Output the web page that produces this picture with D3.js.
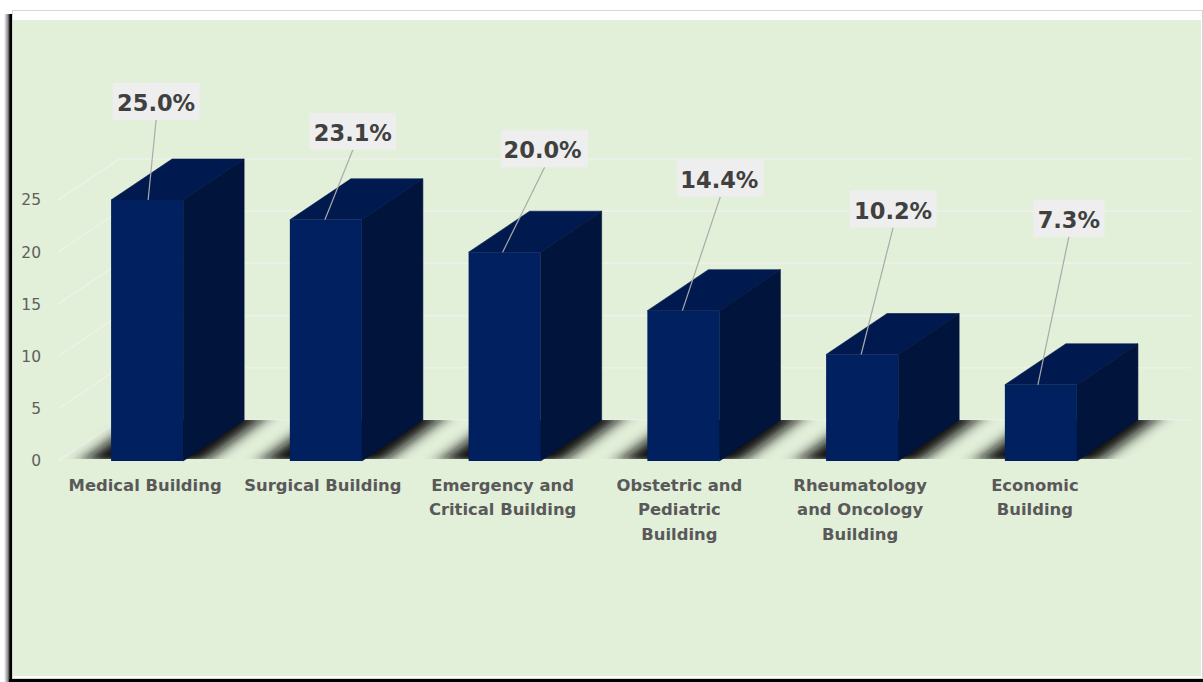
<!DOCTYPE html>
<html>
<head>
<meta charset="utf-8">
<script src="https://cdn.jsdelivr.net/npm/d3@7/dist/d3.min.js"></script>
<style>
html,body{margin:0;padding:0;background:#fff;overflow:hidden}
svg{display:block}
text{font-family:"DejaVu Sans",sans-serif}
</style>
</head>
<body>
<svg id="chart" width="1203" height="682"></svg>
<script>
// Share of cases per hospital building
const categories = [
  ["Medical Building"],
  ["Surgical Building"],
  ["Emergency and", "Critical Building"],
  ["Obstetric and", "Pediatric", "Building"],
  ["Rheumatology", "and Oncology", "Building"],
  ["Economic", "Building"]
];
const values = [25.0, 23.1, 20.0, 14.4, 10.2, 7.3];
const yTicks = [0, 5, 10, 15, 20, 25];

// Callout placement relative to the top of each bar's front face
const calloutDx = [9, 27, 40, 37, 31, 28];
const calloutDy = [-97, -87, -102, -131, -144, -165];
const textNudge = [0, 0, -2, -1, 0, 0];
const leaderNudge = [1, -1, -2, -1, -1, -3];
const labelNudge = [-2, -3, -2, -4, -2, -6];

const depth = {dx: 61, dy: -41};
const svg = d3.select("#chart");
const defs = svg.append("defs");

const y = d3.scaleLinear().domain([0, 25]).range([461, 200]);
const x = d3.scaleBand().domain(d3.range(values.length))
  .range([58, 1130]).paddingInner(0.597).paddingOuter(0.297);
const floorY = y(0);

// Soft shadow along the left edge of the panel
const edge = defs.append("linearGradient").attr("id", "edge");
edge.append("stop").attr("offset", 0).attr("stop-color", "#fff");
edge.append("stop").attr("offset", 0.45).attr("stop-color", "#888");
edge.append("stop").attr("offset", 0.68).attr("stop-color", "#000");
edge.append("stop").attr("offset", 1).attr("stop-color", "#000");

defs.append("filter").attr("id", "floor")
  .attr("x", "-30%").attr("y", "-40%").attr("width", "160%").attr("height", "180%")
  .append("feGaussianBlur").attr("stdDeviation", "10 3");
defs.append("clipPath").attr("id", "floorClip").append("rect")
  .attr("x", 0).attr("y", floorY + depth.dy).attr("width", 1203).attr("height", -depth.dy - 2);

svg.append("rect").attr("x", 4).attr("y", 14).attr("width", 9).attr("height", 668).attr("fill", "url(#edge)");
svg.append("rect").attr("x", 12.5).attr("y", 10.5).attr("width", 1190).attr("height", 668)
  .attr("fill", "#fff").attr("stroke", "#d6d6d6").attr("stroke-width", 1);
svg.append("rect").attr("x", 13).attr("y", 20).attr("width", 1188).attr("height", 656).attr("fill", "#e2efd9");
svg.append("rect").attr("x", 9).attr("y", 679).attr("width", 1194).attr("height", 3).attr("fill", "#000");

// Gridlines: diagonal on the side wall, horizontal on the back wall
const grid = svg.append("g").attr("fill", "none").attr("stroke", "#eef1ea").attr("stroke-width", 1.6);
grid.selectAll("path").data(yTicks).join("path")
  .attr("d", d => d3.line()([
    [58, y(d)],
    [58 + depth.dx, y(d) + depth.dy],
    [1191, y(d) + depth.dy]
  ]));

// Tick labels
svg.append("g").attr("fill", "#5f5f5f").attr("font-size", 15.5).attr("text-anchor", "end")
  .selectAll("text").data(yTicks).join("text")
  .attr("x", 41).attr("y", d => y(d)).attr("dy", "0.35em").text(d => d);

// Blurred floor shadows, clipped to the floor band
svg.append("g").attr("clip-path", "url(#floorClip)")
  .append("g").attr("fill", "#111").attr("filter", "url(#floor)")
  .selectAll("path").data(values).join("path")
  .attr("d", (d, i) => {
    const l = x(i);
    const w = x.bandwidth();
    return d3.line()([
      [l - 28, floorY],
      [l - 28 + depth.dx, floorY + depth.dy - 4],
      [l + w + depth.dx + 22, floorY + depth.dy - 4],
      [l + w + 22, floorY]
    ]);
  });

// Bars: top, side and front faces
const bars = svg.append("g").selectAll("g").data(values).join("g");
const face = (pts) => d3.line()(pts) + "Z";
bars.append("path").attr("fill", "#001a4f").attr("stroke", "#001a4f").attr("stroke-width", 0.6)
  .attr("d", (d, i) => {
    const l = x(i), r = l + x.bandwidth(), t = y(d);
    return face([[l, t], [l + depth.dx, t + depth.dy], [r + depth.dx, t + depth.dy], [r, t]]);
  });
bars.append("path").attr("fill", "#00143c").attr("stroke", "#00143c").attr("stroke-width", 0.6)
  .attr("d", (d, i) => {
    const r = x(i) + x.bandwidth(), t = y(d);
    return face([[r, t], [r + depth.dx, t + depth.dy], [r + depth.dx, floorY + depth.dy], [r, floorY]]);
  });
bars.append("rect").attr("fill", "#002060")
  .attr("x", (d, i) => x(i)).attr("y", d => y(d))
  .attr("width", x.bandwidth()).attr("height", d => floorY - y(d));

// Value callouts with leader lines; each box is sized from its text
const cx = i => x(i) + x.bandwidth() / 2;
const callouts = svg.append("g").selectAll("g").data(values).join("g");
const calloutLeader = callouts.append("line").attr("stroke", "#a9abaa").attr("stroke-width", 1.2)
  .attr("x1", (d, i) => cx(i) + calloutDx[i]).attr("y1", (d, i) => y(d) + calloutDy[i] + 17)
  .attr("x2", (d, i) => cx(i) + leaderNudge[i]).attr("y2", d => y(d));
const calloutBox = callouts.append("rect").attr("fill", "#eeeeee");
const calloutText = callouts.append("text").attr("text-anchor", "middle").attr("dy", "0.36em")
  .attr("fill", "#404040").attr("font-size", 22.5).attr("font-weight", "bold")
  .attr("x", (d, i) => cx(i) + calloutDx[i] + textNudge[i]).attr("y", (d, i) => y(d) + calloutDy[i])
  .text(d => d.toFixed(1) + "%");
calloutBox.each(function (d, i) {
  const w = calloutText.nodes()[i].getComputedTextLength() + 9;
  d3.select(this)
    .attr("x", cx(i) + calloutDx[i] - w / 2).attr("y", y(d) + calloutDy[i] - 20)
    .attr("width", w).attr("height", 37);
});

// Category labels, wrapped over several lines
const cats = svg.append("g").attr("fill", "#595959").attr("font-size", 16.4).attr("font-weight", "bold")
  .attr("text-anchor", "middle").selectAll("text").data(categories).join("text");
cats.selectAll("tspan").data((d, i) => d.map(s => ({s, i}))).join("tspan")
  .attr("x", d => cx(d.i) + labelNudge[d.i])
  .attr("y", (d, j) => 491 + j * 24.4)
  .text(d => d.s);
</script>
</body>
</html>
